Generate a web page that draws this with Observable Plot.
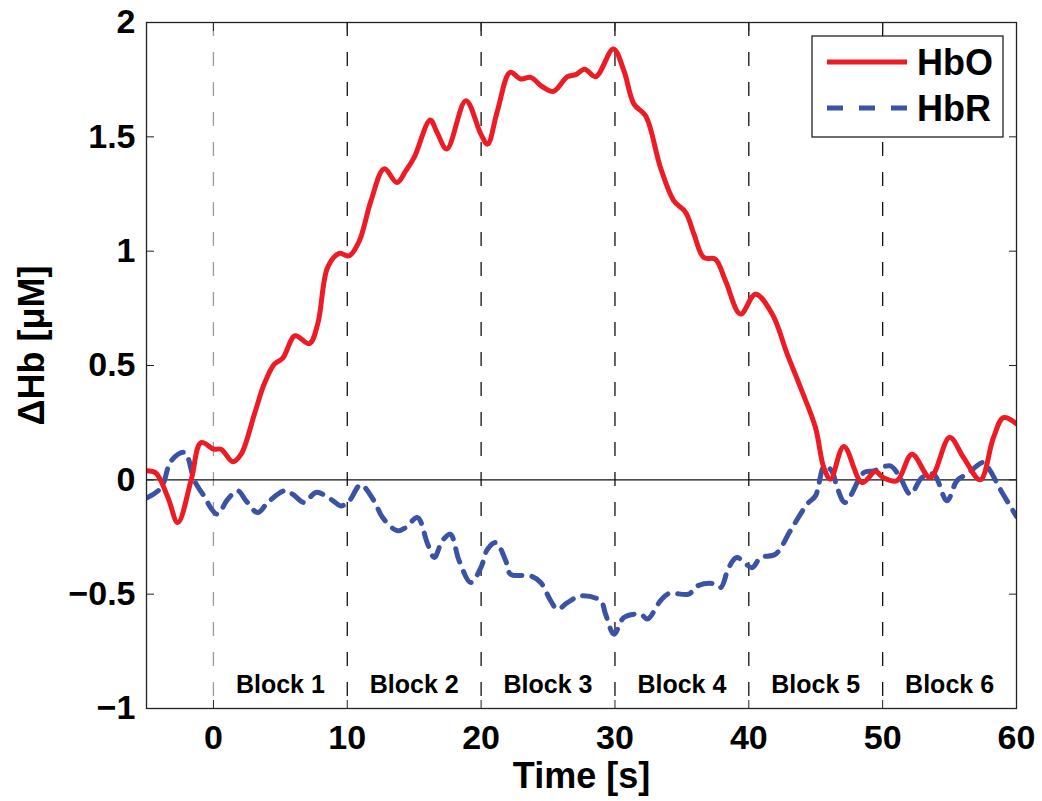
<!DOCTYPE html>
<html>
<head>
<meta charset="utf-8">
<script src="https://cdn.jsdelivr.net/npm/d3@7"></script>
<script src="https://cdn.jsdelivr.net/npm/@observablehq/plot@0.6"></script>
<style>
  html, body { margin: 0; padding: 0; background: #fff; }
  #wrap { position: relative; width: 1042px; height: 801px; font-family: "Liberation Sans", Arial, Helvetica, sans-serif; }
  #legend { position: absolute; left: 0; top: 0; }
</style>
</head>
<body>
<div id="wrap"></div>
<script>
// ---- data ----
const hboX = [-5, -4.3, -3.4, -2.66, -1.66, -0.92, 0.03, 0.57, 1.45, 2.07, 3.06, 3.8, 4.55, 5.18, 6.1, 7.17, 7.79, 8.54, 9.4, 10.15, 10.9, 11.77, 12.76, 13.71, 14.38, 15.0, 16.2, 16.7, 17.44, 18.86, 19.98, 20.48, 21.22, 22.17, 22.96, 23.7, 24.58, 25.4, 26.45, 27.07, 27.74, 28.56, 29.88, 30.67, 31.42, 32.29, 33.4, 34.4, 35.28, 35.9, 36.64, 37.5, 38.26, 39.38, 40.5, 41.75, 42.87, 43.86, 44.98, 45.6, 46.1, 47.1, 48.46, 49.46, 50.03, 51.07, 52.19, 53.56, 55.0, 56.04, 57.29, 58.28, 59.03, 60];
const hboY = [0.04, 0.03, -0.077, -0.187, 0.0, 0.163, 0.134, 0.134, 0.079, 0.112, 0.287, 0.42, 0.506, 0.532, 0.63, 0.596, 0.681, 0.93, 0.99, 0.98, 1.045, 1.22, 1.36, 1.30, 1.352, 1.41, 1.574, 1.52, 1.447, 1.658, 1.512, 1.468, 1.614, 1.782, 1.753, 1.76, 1.719, 1.699, 1.763, 1.772, 1.796, 1.763, 1.884, 1.789, 1.643, 1.592, 1.366, 1.22, 1.17, 1.075, 0.972, 0.965, 0.87, 0.725, 0.812, 0.725, 0.55, 0.404, 0.229, 0.054, 0.003, 0.146, -0.012, 0.036, 0.01, -0.004, 0.112, 0.01, 0.185, 0.098, 0.0, 0.185, 0.272, 0.245];
const hbrX = [-5, -3.9, -3.16, -2.16, -1.42, -0.79, 0.28, 1.07, 1.82, 2.44, 3.31, 4.06, 5.3, 5.92, 6.79, 7.66, 8.78, 9.53, 10.15, 11.0, 12.0, 12.64, 13.76, 14.38, 15.25, 16.0, 16.5, 17.1, 17.7, 18.36, 19.23, 19.98, 20.48, 21.1, 21.84, 22.2, 23.7, 24.45, 25.2, 25.7, 26.45, 27.44, 28.93, 29.3, 29.93, 30.67, 31.92, 32.42, 33.4, 34.03, 35.5, 36.15, 37.4, 37.9, 38.5, 39.1, 40.25, 40.87, 42.0, 43.1, 44.36, 44.98, 45.65, 46.2, 46.6, 47.2, 48.6, 49.33, 50.57, 51.3, 52.07, 52.94, 53.8, 54.8, 55.55, 56.3, 57.54, 58.04, 58.78, 60];
const hbrY = [-0.08, -0.034, 0.083, 0.12, -0.004, -0.063, -0.15, -0.085, -0.048, -0.092, -0.143, -0.099, -0.048, -0.063, -0.099, -0.055, -0.085, -0.114, -0.092, -0.022, -0.092, -0.165, -0.223, -0.208, -0.165, -0.28, -0.34, -0.267, -0.238, -0.354, -0.449, -0.384, -0.303, -0.274, -0.354, -0.413, -0.42, -0.449, -0.529, -0.566, -0.537, -0.507, -0.529, -0.588, -0.675, -0.602, -0.588, -0.609, -0.529, -0.497, -0.5, -0.464, -0.454, -0.471, -0.384, -0.34, -0.384, -0.34, -0.325, -0.223, -0.106, -0.07, 0.061, 0.039, -0.034, -0.099, 0.032, 0.039, 0.061, 0.01, -0.063, 0.01, 0.025, -0.092, -0.004, 0.025, 0.076, 0.039, -0.041, -0.16];
const blockStarts = [0, 10, 20, 30, 40, 50];
const blockLabels = ["Block 1", "Block 2", "Block 3", "Block 4", "Block 5", "Block 6"];
const xTicks = [0, 10, 20, 30, 40, 50, 60];
const yTicks = [-1, -0.5, 0, 0.5, 1, 1.5, 2];
const seriesNames = ["HbO", "HbR"];
const seriesColors = ["#ED1C24", "#3A53A4"];

// ---- build ----
const hbo = hboX.map((x, i) => ({x, y: hboY[i]}));
const hbr = hbrX.map((x, i) => ({x, y: hbrY[i]}));
const blocks = blockStarts.map((s, i) => ({center: s + 5, label: blockLabels[i]}));
const fmt = d => (d < 0 ? "\u2212" + Math.abs(d) : String(d));

const FONT = "Liberation Sans, Arial, Helvetica, sans-serif";

const chart = Plot.plot({
  width: 1042,
  height: 801,
  marginLeft: 146,
  marginRight: 26,
  marginTop: 22,
  marginBottom: 93,
  style: {fontFamily: FONT, background: "white", overflow: "visible"},
  x: {domain: [-5, 60], label: null},
  y: {domain: [-1, 2], label: null},
  marks: [
    Plot.ruleX(blockStarts, {stroke: d => d === 0 ? "#999" : "#111", strokeWidth: 1.3, strokeDasharray: "14,16"}),
    Plot.ruleY([0], {stroke: "#111", strokeWidth: 1.3}),
    Plot.line(hbr, {x: "x", y: "y", stroke: seriesColors[1], strokeWidth: 5, strokeDasharray: "14,10", curve: "catmull-rom", clip: true}),
    Plot.line(hbo, {x: "x", y: "y", stroke: seriesColors[0], strokeWidth: 5, curve: "catmull-rom", clip: true}),
    Plot.text(blocks, {x: "center", text: "label", frameAnchor: "bottom", dy: -24, lineAnchor: "middle", fontSize: 25, fontWeight: "bold", fill: "black"}),
    Plot.frame({stroke: "#222", strokeWidth: 1.3}),
    Plot.axisX(xTicks, {anchor: "bottom", tickSize: -8, text: null, stroke: "#222", label: null}),
    Plot.axisX(xTicks, {anchor: "top", tickSize: -8, text: null, stroke: "#222", label: null}),
    Plot.axisY(yTicks, {anchor: "left", tickSize: -8, text: null, stroke: "#222", label: null}),
    Plot.axisY(yTicks, {anchor: "right", tickSize: -8, text: null, stroke: "#222", label: null}),
    Plot.axisX(xTicks, {anchor: "bottom", tickSize: 0, tickPadding: 16, tickFormat: fmt, fontSize: 34, fontWeight: "bold", fill: "black", label: null}),
    Plot.axisY(yTicks, {anchor: "left", tickSize: 0, tickPadding: 11, tickFormat: fmt, fontSize: 34, fontWeight: "bold", fill: "black", label: null}),
    Plot.text(["Time [s]"], {frameAnchor: "bottom", dy: 68, lineAnchor: "middle", fontSize: 36, fontWeight: "bold", fill: "black"}),
    Plot.text(["\u0394Hb [\u03BCM]"], {frameAnchor: "left", dx: -114, dy: -20, rotate: -90, textAnchor: "middle", lineAnchor: "middle", fontSize: 36, fontWeight: "bold", fill: "black"})
  ]
});

const wrap = document.getElementById("wrap");
wrap.appendChild(chart);

// ---- legend (overlay) ----
const ns = "http://www.w3.org/2000/svg";
const leg = document.createElementNS(ns, "svg");
leg.setAttribute("id", "legend");
leg.setAttribute("width", 1042);
leg.setAttribute("height", 801);
leg.style.pointerEvents = "none";
const lx = 812, ly = 36, lw = 191, lh = 101;
const rect = document.createElementNS(ns, "rect");
rect.setAttribute("x", lx); rect.setAttribute("y", ly);
rect.setAttribute("width", lw); rect.setAttribute("height", lh);
rect.setAttribute("fill", "white"); rect.setAttribute("stroke", "#222"); rect.setAttribute("stroke-width", 1.3);
leg.appendChild(rect);
const rowsY = [62, 108];
const dashes = [null, "16,16"];
seriesNames.forEach((name, i) => {
  const ln = document.createElementNS(ns, "line");
  ln.setAttribute("x1", 827); ln.setAttribute("x2", 907);
  ln.setAttribute("y1", rowsY[i]); ln.setAttribute("y2", rowsY[i]);
  ln.setAttribute("stroke", seriesColors[i]); ln.setAttribute("stroke-width", 5);
  if (dashes[i]) ln.setAttribute("stroke-dasharray", dashes[i]);
  leg.appendChild(ln);
  const t = document.createElementNS(ns, "text");
  t.setAttribute("x", 917); t.setAttribute("y", rowsY[i]);
  t.setAttribute("dy", "0.36em");
  t.setAttribute("font-family", FONT);
  t.setAttribute("font-size", 36); t.setAttribute("font-weight", "bold");
  t.textContent = name;
  leg.appendChild(t);
});
wrap.appendChild(leg);
</script>
</body>
</html>
